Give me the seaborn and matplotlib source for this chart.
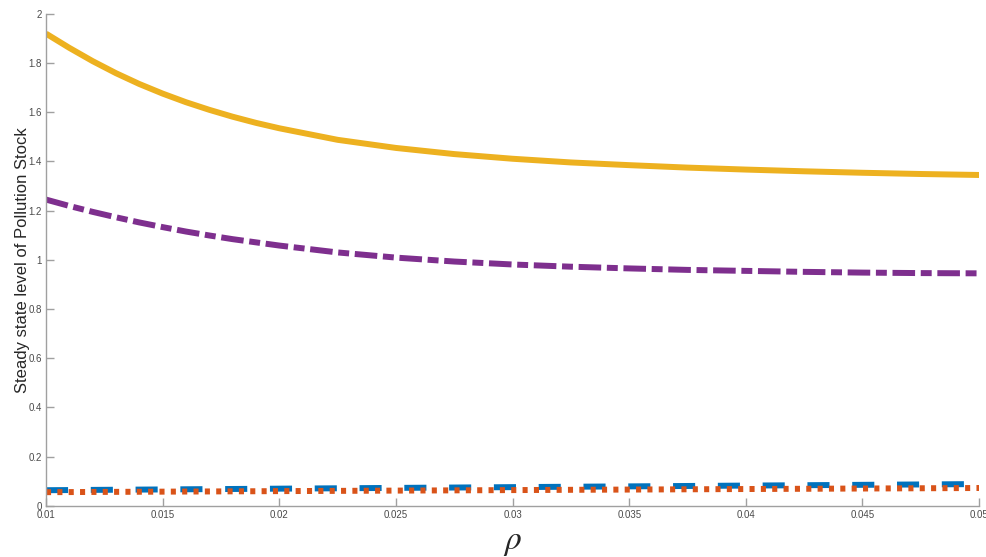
import numpy as np
import pandas as pd
import matplotlib
matplotlib.use("Agg")
import matplotlib.pyplot as plt
import seaborn as sns

# Discount rate grid (finer where the curves bend most)
rho = [0.01, 0.011, 0.012, 0.013, 0.014, 0.015, 0.016, 0.017, 0.018, 0.019, 0.02,
       0.0225, 0.025, 0.0275, 0.03, 0.0325, 0.035, 0.0375, 0.04, 0.0425, 0.045,
       0.0475, 0.05]

# Steady-state pollution stock for each scenario
stock_blue = [0.063, 0.0636, 0.0643, 0.0649, 0.0655, 0.0661, 0.0668, 0.0674, 0.068,
              0.0686, 0.0693, 0.0708, 0.0724, 0.0739, 0.0755, 0.0771, 0.0786, 0.0802,
              0.0818, 0.0833, 0.0849, 0.0864, 0.088]
stock_orange = [0.055, 0.0554, 0.0559, 0.0563, 0.0567, 0.0571, 0.0576, 0.058, 0.0584,
                0.0588, 0.0593, 0.0603, 0.0614, 0.0624, 0.0635, 0.0646, 0.0656, 0.0667,
                0.0678, 0.0688, 0.0699, 0.0709, 0.072]
stock_yellow = [1.92, 1.862, 1.808, 1.759, 1.715, 1.676, 1.641, 1.61, 1.582, 1.557,
                1.535, 1.488, 1.455, 1.43, 1.411, 1.396, 1.385, 1.375, 1.367, 1.36,
                1.354, 1.349, 1.345]
stock_purple = [1.245, 1.219, 1.195, 1.173, 1.152, 1.133, 1.115, 1.099, 1.084, 1.071,
                1.058, 1.03, 1.009, 0.993, 0.981, 0.972, 0.965, 0.959, 0.955, 0.951,
                0.948, 0.946, 0.945]

x_ticks = [0.01, 0.015, 0.02, 0.025, 0.03, 0.035, 0.04, 0.045, 0.05]
x_tick_labels = ["0.01", "0.015", "0.02", "0.025", "0.03", "0.035", "0.04", "0.045", "0.05"]
y_ticks = [0, 0.2, 0.4, 0.6, 0.8, 1.0, 1.2, 1.4, 1.6, 1.8, 2.0]
y_tick_labels = ["0", "0.2", "0.4", "0.6", "0.8", "1", "1.2", "1.4", "1.6", "1.8", "2"]

sns.set_style("ticks")
plt.rcParams["font.family"] = ["Liberation Sans", "DejaVu Sans"]
plt.rcParams["mathtext.fontset"] = "stix"

df = pd.DataFrame({"rho": rho, "blue": stock_blue, "orange": stock_orange,
                   "yellow": stock_yellow, "purple": stock_purple})

fig = plt.figure(figsize=(9.87, 5.57), dpi=100)
ax = fig.add_axes([0.0466, 0.0921, 0.9454, 0.8829])

lw = 4.3
sns.lineplot(data=df, x="rho", y="blue", ax=ax, color="#0072BD", lw=lw,
             linestyle=(0, (3.7, 3.8)), dash_capstyle="butt")
sns.lineplot(data=df, x="rho", y="orange", ax=ax, color="#D95319", lw=lw,
             linestyle=(0, (0.85, 1.05)), dash_capstyle="butt")
sns.lineplot(data=df, x="rho", y="yellow", ax=ax, color="#EDB120", lw=lw,
             solid_capstyle="butt", solid_joinstyle="round")
sns.lineplot(data=df, x="rho", y="purple", ax=ax, color="#7E2F8E", lw=lw,
             linestyle=(0, (3.78, 0.95, 1.83, 0.95)), dash_capstyle="butt")

ax.set_xlim(0.01, 0.05)
ax.set_ylim(0, 2)
ax.set_xticks(x_ticks)
ax.set_xticklabels(x_tick_labels)
ax.set_yticks(y_ticks)
ax.set_yticklabels(y_tick_labels)

sns.despine(ax=ax)
for side in ("left", "bottom"):
    ax.spines[side].set_color("#a0a0a0")
    ax.spines[side].set_linewidth(1.0)
ax.tick_params(direction="in", length=6, width=1.0, color="#a0a0a0",
               labelsize=7, labelcolor="#4a4a4a", pad=3)

ax.set_xlabel(r"$\rho$", fontsize=24, labelpad=5)
ax.set_ylabel("Steady state level of Pollution Stock", fontsize=12, labelpad=-1)

fig.savefig("out.png", dpi=100)
